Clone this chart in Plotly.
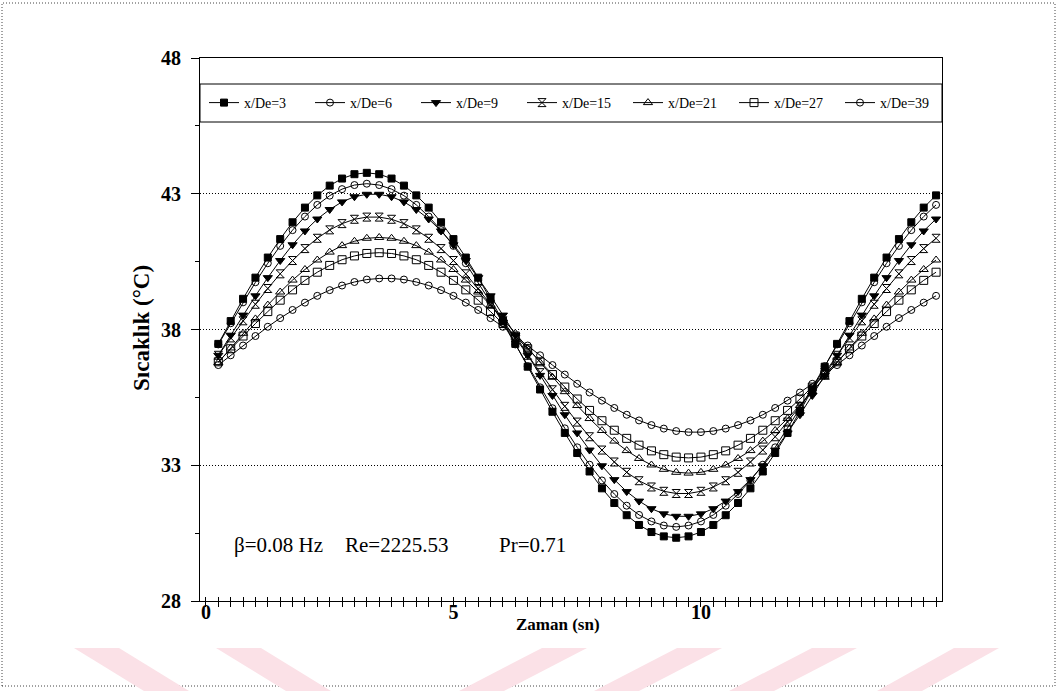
import plotly.graph_objects as go

# Zaman (sn) - örnekleme adımı 0.25 s
time_s = [0.25, 0.5, 0.75, 1.0, 1.25, 1.5, 1.75, 2.0, 2.25, 2.5, 2.75, 3.0, 3.25, 3.5, 3.75,
          4.0, 4.25, 4.5, 4.75, 5.0, 5.25, 5.5, 5.75, 6.0, 6.25, 6.5, 6.75, 7.0, 7.25, 7.5,
          7.75, 8.0, 8.25, 8.5, 8.75, 9.0, 9.25, 9.5, 9.75, 10.0, 10.25, 10.5, 10.75, 11.0,
          11.25, 11.5, 11.75, 12.0, 12.25, 12.5, 12.75, 13.0, 13.25, 13.5, 13.75, 14.0,
          14.25, 14.5, 14.75]

# Sıcaklık (°C) - her x/De konumu için
temp_xde3 = [37.47, 38.31, 39.13, 39.91, 40.65, 41.33, 41.95, 42.49, 42.94, 43.30, 43.56, 43.72,
             43.77,
             43.72, 43.56, 43.30, 42.94, 42.49, 41.95, 41.33, 40.65, 39.91, 39.13, 38.31, 37.47,
             36.63, 35.79, 34.97, 34.19, 33.45, 32.77, 32.15, 31.61, 31.16, 30.80, 30.54, 30.38,
             30.33,
             30.38, 30.54, 30.80, 31.16, 31.61, 32.15, 32.77, 33.45, 34.19, 34.97, 35.79, 36.63,
             37.47, 38.31, 39.13, 39.91, 40.65, 41.33, 41.95, 42.49, 42.94]

temp_xde6 = [37.45, 38.23, 39.00, 39.74, 40.44, 41.08, 41.66, 42.16, 42.59, 42.93, 43.17, 43.32,
             43.37,
             43.32, 43.17, 42.93, 42.59, 42.16, 41.66, 41.08, 40.44, 39.74, 39.00, 38.23, 37.45,
             36.65, 35.87, 35.10, 34.36, 33.66, 33.02, 32.44, 31.94, 31.51, 31.17, 30.93, 30.78,
             30.73,
             30.78, 30.93, 31.17, 31.51, 31.94, 32.44, 33.02, 33.66, 34.36, 35.10, 35.87, 36.65,
             37.45, 38.23, 39.00, 39.74, 40.44, 41.08, 41.66, 42.16, 42.59]

temp_xde9 = [37.05, 37.79, 38.53, 39.24, 39.91, 40.54, 41.12, 41.63, 42.07, 42.42, 42.70, 42.89,
             42.98,
             42.98, 42.89, 42.70, 42.42, 42.07, 41.63, 41.12, 40.54, 39.91, 39.24, 38.53, 37.79,
             37.05, 36.31, 35.57, 34.86, 34.19, 33.56, 32.98, 32.47, 32.03, 31.68, 31.40, 31.21,
             31.12,
             31.12, 31.21, 31.40, 31.68, 32.03, 32.47, 32.98, 33.56, 34.19, 34.86, 35.57, 36.31,
             37.05, 37.79, 38.53, 39.24, 39.91, 40.54, 41.12, 41.63, 42.07]

temp_xde15 = [37.05, 37.69, 38.32, 38.93, 39.51, 40.05, 40.54, 40.98, 41.36, 41.67, 41.90, 42.06,
              42.14,
              42.14, 42.06, 41.90, 41.67, 41.36, 40.98, 40.54, 40.05, 39.51, 38.93, 38.32, 37.69,
              37.05, 36.41, 35.78, 35.17, 34.59, 34.05, 33.56, 33.12, 32.74, 32.43, 32.20, 32.04,
              31.96,
              31.96, 32.04, 32.20, 32.43, 32.74, 33.12, 33.56, 34.05, 34.59, 35.17, 35.78, 36.41,
              37.05, 37.69, 38.32, 38.93, 39.51, 40.05, 40.54, 40.98, 41.36]

temp_xde21 = [36.78, 37.32, 37.86, 38.39, 38.90, 39.38, 39.82, 40.21, 40.56, 40.85, 41.09, 41.25,
              41.36, 41.39,
              41.36, 41.25, 41.09, 40.85, 40.56, 40.21, 39.82, 39.38, 38.90, 38.39, 37.86, 37.32,
              36.78, 36.24, 35.71, 35.20, 34.72, 34.28, 33.89, 33.54, 33.25, 33.01, 32.85, 32.74,
              32.71,
              32.74, 32.85, 33.01, 33.25, 33.54, 33.89, 34.28, 34.72, 35.20, 35.71, 36.24, 36.78,
              37.32, 37.86, 38.39, 38.90, 39.38, 39.82, 40.21, 40.56]

temp_xde27 = [36.81, 37.29, 37.76, 38.22, 38.66, 39.08, 39.46, 39.81, 40.11, 40.36, 40.57, 40.71,
              40.80, 40.83,
              40.80, 40.71, 40.57, 40.36, 40.11, 39.81, 39.46, 39.08, 38.66, 38.22, 37.76, 37.29,
              36.81, 36.34, 35.88, 35.44, 35.02, 34.64, 34.29, 33.99, 33.74, 33.53, 33.39, 33.30,
              33.27,
              33.30, 33.39, 33.53, 33.74, 33.99, 34.29, 34.64, 35.02, 35.44, 35.88, 36.34, 36.81,
              37.29, 37.76, 38.22, 38.66, 39.08, 39.46, 39.81, 40.11]

temp_xde39 = [36.69, 37.05, 37.41, 37.76, 38.10, 38.42, 38.72, 38.99, 39.24, 39.45, 39.62, 39.75,
              39.84, 39.88,
              39.88, 39.84, 39.75, 39.62, 39.45, 39.24, 38.99, 38.72, 38.42, 38.10, 37.76, 37.41,
              37.05, 36.69, 36.34, 36.00, 35.68, 35.38, 35.11, 34.86, 34.65, 34.48, 34.35, 34.26,
              34.22,
              34.22, 34.26, 34.35, 34.48, 34.65, 34.86, 35.11, 35.38, 35.68, 36.00, 36.34, 36.69,
              37.05, 37.41, 37.76, 38.10, 38.42, 38.72, 38.99, 39.24]

series_names = ["x/De=3", "x/De=6", "x/De=9", "x/De=15", "x/De=21", "x/De=27", "x/De=39"]
series_values = [temp_xde3, temp_xde6, temp_xde9, temp_xde15, temp_xde21, temp_xde27, temp_xde39]

y_ticks = [28, 33, 38, 43, 48]
y_minor_ticks = [30.5, 35.5, 40.5, 45.5]
x_ticks = [0, 5, 10]

SERIF = "Liberation Serif, Times New Roman, serif"

marker_styles = [
    dict(symbol="square", size=7),
    dict(symbol="circle-open", size=7),
    dict(symbol="triangle-down", size=8),
    dict(symbol="hourglass-open", size=8),
    dict(symbol="triangle-up-open", size=8),
    dict(symbol="square-open", size=8),
    dict(symbol="circle-open", size=7),
]

fig = go.Figure()
for name, vals, ms in zip(series_names, series_values, marker_styles):
    fig.add_trace(go.Scatter(
        x=time_s, y=vals, name=name, mode="lines+markers",
        line=dict(color="black", width=1),
        marker=dict(symbol=ms["symbol"], size=ms["size"], color="black",
                    line=dict(color="black", width=1)),
    ))

# invisible helper traces so the overlay axes (upper tick halves, tick labels) get drawn
for ax in ("x2", "x3"):
    fig.add_trace(go.Scatter(x=[time_s[0]], y=[temp_xde3[0]], xaxis=ax, yaxis="y",
                             mode="markers", marker=dict(opacity=0), showlegend=False,
                             hoverinfo="skip"))

# page pixel -> paper coordinates (plot area 200..942 x 58..601)
L, R, T, B = 200, 942, 58, 601


def px(X):
    return (X - L) / (R - L)


def py(Y):
    return (B - Y) / (B - T)


shapes = []
# legend frame
shapes.append(dict(type="rect", xref="paper", yref="paper",
                   x0=0, x1=1, y0=py(122), y1=py(84),
                   line=dict(color="black", width=1), fillcolor="rgba(0,0,0,0)"))
# outer dotted page frame
shapes.append(dict(type="rect", xref="paper", yref="paper",
                   x0=px(2), x1=px(1055), y0=py(686), y1=py(3),
                   line=dict(color="#444444", width=1, dash="1px,2px"), layer="below"))
# faint watermark bands along the bottom
band_top, band_bot = 648, 691
for x0, x1 in [(74, 189), (216, 331)]:
    pts = [(x0, band_top), (x0 + 45, band_top), (x1, band_bot), (x1 - 45, band_bot)]
    path = "M " + " L ".join(f"{px(a):.4f},{py(b):.4f}" for a, b in pts) + " Z"
    shapes.append(dict(type="path", xref="paper", yref="paper", path=path,
                       fillcolor="#fbe1e7", line=dict(width=0), layer="below"))
for x0, x1 in [(459, 587), (594, 722), (729, 857), (877, 999)]:
    pts = [(x1 - 45, band_top), (x1, band_top), (x0 + 45, band_bot), (x0, band_bot)]
    path = "M " + " L ".join(f"{px(a):.4f},{py(b):.4f}" for a, b in pts) + " Z"
    shapes.append(dict(type="path", xref="paper", yref="paper", path=path,
                       fillcolor="#fbe1e7", line=dict(width=0), layer="below"))

annotations = [
    dict(text="Sıcaklık (°C)", xref="paper", yref="paper", x=px(141), y=py(328),
         textangle=-90, showarrow=False, xanchor="center", yanchor="middle",
         font=dict(family=SERIF, size=23, color="black", weight="bold")),
    dict(text="Zaman (sn)", xref="paper", yref="paper", x=px(558), y=py(624),
         showarrow=False, xanchor="center", yanchor="middle",
         font=dict(family=SERIF, size=17, color="black", weight="bold")),
    dict(text="β=0.08 Hz", xref="paper", yref="paper", x=px(232), y=py(545),
         showarrow=False, xanchor="left", yanchor="middle",
         font=dict(family=SERIF, size=21, color="black")),
    dict(text="Re=2225.53", xref="paper", yref="paper", x=px(343), y=py(545),
         showarrow=False, xanchor="left", yanchor="middle",
         font=dict(family=SERIF, size=21, color="black")),
    dict(text="Pr=0.71", xref="paper", yref="paper", x=px(497), y=py(545),
         showarrow=False, xanchor="left", yanchor="middle",
         font=dict(family=SERIF, size=21, color="black")),
]

x_range = [-0.12, 14.87]

fig.update_layout(
    width=1058, height=691,
    margin=dict(l=L, r=1058 - R, t=T, b=691 - B),
    plot_bgcolor="white", paper_bgcolor="white",
    font=dict(family=SERIF, color="black"),
    showlegend=True,
    legend=dict(orientation="h", x=px(204), y=py(103), xanchor="left", yanchor="middle",
                font=dict(family=SERIF, size=14, color="black"),
                entrywidth=61, entrywidthmode="pixels",
                bgcolor="rgba(0,0,0,0)", borderwidth=0),
    # main axis: frame line plus lower tick halves every 0.25 s
    xaxis=dict(range=x_range, showline=True, linecolor="black", linewidth=1, mirror=True,
               ticks="outside", ticklen=5, tickcolor="black", tick0=0, dtick=0.25,
               showticklabels=False, showgrid=False, zeroline=False),
    # upper tick halves, so every tick crosses the frame line
    xaxis2=dict(overlaying="x", anchor="free", position=py(596), side="bottom",
                range=x_range, showline=False, showgrid=False, zeroline=False,
                showticklabels=False, ticks="outside", ticklen=5, tickcolor="black",
                tick0=0, dtick=0.25),
    # tick labels under the tick marks
    xaxis3=dict(overlaying="x", anchor="free", position=py(598), side="bottom",
                range=x_range, showline=False, showgrid=False, zeroline=False, ticks="",
                tickvals=x_ticks, ticktext=[str(v) for v in x_ticks],
                tickfont=dict(family=SERIF, size=20, color="black", weight="bold")),
    yaxis=dict(range=[28, 48], showline=True, linecolor="black", linewidth=1, mirror=True,
               ticks="outside", ticklen=8, tickcolor="black", tickvals=y_ticks,
               ticktext=[str(v) for v in y_ticks],
               minor=dict(tickvals=y_minor_ticks, ticks="outside", ticklen=4,
                          tickcolor="black", showgrid=False),
               tickfont=dict(family=SERIF, size=20, color="black", weight="bold"),
               ticklabelstandoff=6,
               showgrid=True, gridcolor="black", gridwidth=1, griddash="1px,2px",
               zeroline=False),
    shapes=shapes,
    annotations=annotations,
)

fig.write_html("out.html")
